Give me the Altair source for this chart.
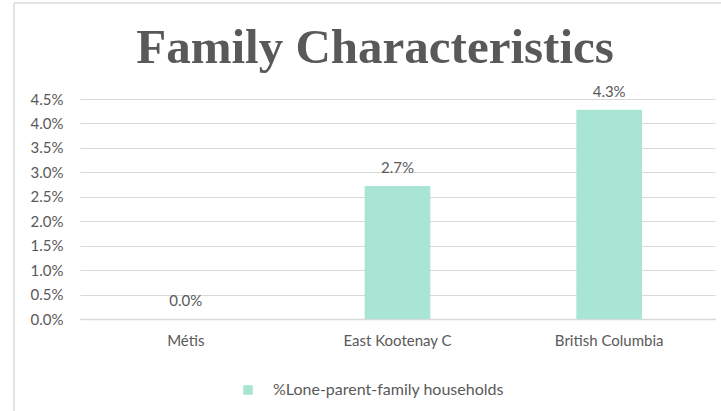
import altair as alt
import pandas as pd

categories = ["Métis", "East Kootenay C", "British Columbia"]
values = [0.0, 0.0272, 0.0428]
series_name = "%Lone-parent-family households"
y_ticks = [0.0, 0.005, 0.01, 0.015, 0.02, 0.025, 0.03, 0.035, 0.04, 0.045]
chart_title = "Family Characteristics"

df = pd.DataFrame({"category": categories, "value": values, "series": [series_name] * len(categories)})
title_df = pd.DataFrame({"t": [chart_title]})

TEXT = "#595959"
GRID = "#d9d9d9"
FONT = "Lato"

x_enc = alt.X("category:N", sort=categories, title=None,
              scale=alt.Scale(paddingInner=0.69, paddingOuter=0.345),
              axis=alt.Axis(labelAngle=0, labelFontSize=15, labelColor=TEXT, labelFont=FONT,
                            domainColor=GRID, domainWidth=1.5, ticks=False, labelPadding=14,
                            grid=False))
y_enc = alt.Y("value:Q", title=None,
              scale=alt.Scale(domain=[0, 0.045], nice=False, zero=True),
              axis=alt.Axis(values=y_ticks, format=".1%", labelFontSize=15, labelColor=TEXT,
                            labelFont=FONT, domain=False, ticks=False, gridColor=GRID,
                            gridWidth=1.2, labelPadding=17, labelOverlap=False,
                            labelFlush=False, tickCount=10))

base = alt.Chart(df).encode(x=x_enc, y=y_enc)

bars = base.mark_bar(color="#A9E5D3").encode(
    color=alt.Color("series:N", scale=alt.Scale(range=["#A9E5D3"]),
                    legend=alt.Legend(title=None, orient="none", legendX=160, legendY=283,
                                      symbolType="square", symbolSize=90, symbolStrokeWidth=0,
                                      labelFontSize=16, labelFont=FONT, labelColor=TEXT,
                                      labelOffset=17, labelLimit=600)),
)

labels = base.mark_text(baseline="alphabetic", dy=-13, fontSize=15, font=FONT, color=TEXT).encode(
    text=alt.Text("value:Q", format=".1%"),
)

title = alt.Chart(title_df).mark_text(
    fontSize=49, font="Liberation Serif", fontWeight="bold", color=TEXT,
    align="center", baseline="alphabetic").encode(
    text="t:N", x=alt.value(295), y=alt.value(-36))

frame_left = alt.Chart(title_df).mark_rule(color=GRID, strokeWidth=1.5).encode(
    x=alt.value(-66), y=alt.value(-96), y2=alt.value(320))
frame_top = alt.Chart(title_df).mark_rule(color=GRID, strokeWidth=1.5).encode(
    x=alt.value(-66), x2=alt.value(650), y=alt.value(-96))

chart = alt.layer(bars, labels, frame_left, frame_top, title).properties(
    width=635, height=220,
    background="white",
    autosize=alt.AutoSizeParams(type="none"),
    padding={"left": 80, "top": 99, "right": 6, "bottom": 92},
).configure_view(stroke="transparent", strokeWidth=0)

chart.save("out.html", embed_options={"renderer": "svg", "actions": False})
